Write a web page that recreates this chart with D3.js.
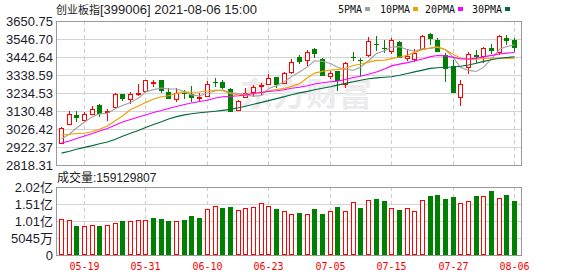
<!DOCTYPE html>
<html>
<head>
<meta charset="utf-8">
<script src="https://cdn.jsdelivr.net/npm/d3@7"></script>
<style>
  body { margin: 0; background: #fff; }
  svg text { font-family: "Liberation Sans", "Noto Sans CJK SC", sans-serif; }
</style>
</head>
<body>
<div id="chart"></div>
<script>
/* DATA */
const dates = ["05-14","05-17","05-18","05-19","05-20","05-21","05-24","05-25","05-26","05-27","05-28","05-31",
  "06-01","06-02","06-03","06-04","06-07","06-08","06-09","06-10","06-11","06-15","06-16","06-17","06-18","06-21","06-22","06-23","06-24","06-25","06-28","06-29","06-30",
  "07-01","07-02","07-05","07-06","07-07","07-08","07-09","07-12","07-13","07-14","07-15","07-16","07-19","07-20","07-21","07-22","07-23","07-26","07-27","07-28","07-29","07-30",
  "08-02","08-03","08-04","08-05","08-06"];

const openP = [2947.2,3053.6,3107.4,3080.2,3114.9,3165.2,3126.4,3155.4,3227.0,3198.1,3230.5,3247.8,
  3295.2,3309.7,3238.6,3199.9,3234.6,3227.0,3207.4,3215.5,3299.9,3296.4,3257.7,3134.5,3213.2,3238.6,3275.0,3286.6,3325.3,3290.6,3357.7,3442.6,3423.6,
  3487.2,3431.1,3334.6,3361.7,3284.8,3440.9,3427.0,3454.2,3517.8,3492.9,3479.1,3527.6,3438.6,3432.8,3487.2,3575.6,3540.9,3454.2,3392.4,3209.7,3383.1,3454.2,
  3450.2,3496.4,3473.3,3554.2,3540.9];
const highP = [3039.7,3130.5,3130.5,3126.4,3159.4,3172.7,3142.1,3232.8,3229.0,3242.1,3284.8,3309.7,
  3309.7,3310.0,3261.7,3261.7,3251.9,3275.0,3232.8,3303.9,3324.1,3309.7,3261.7,3194.1,3261.7,3280.8,3290.6,3342.6,3327.0,3357.7,3429.3,3454.2,3483.1,
  3496.4,3434.0,3361.7,3364.0,3415.5,3469.8,3435.1,3556.5,3564.0,3540.9,3550.8,3535.2,3483.1,3488.9,3569.8,3583.1,3550.8,3464.0,3425.3,3309.7,3473.3,3483.1,
  3498.7,3517.8,3569.8,3569.8,3554.2];
const lowP = [2939.7,3052.0,3068.6,3074.4,3113.0,3097.5,3074.4,3154.0,3190.0,3172.7,3218.9,3246.0,
  3267.5,3232.8,3199.0,3184.3,3199.9,3184.3,3188.3,3215.0,3270.9,3257.7,3126.0,3134.0,3203.9,3213.2,3223.0,3280.8,3261.7,3290.0,3344.4,3400.5,3392.4,
  3435.1,3333.0,3313.7,3247.8,3265.2,3419.5,3332.8,3444.4,3477.3,3464.0,3458.3,3434.0,3419.5,3415.5,3487.0,3512.0,3473.0,3296.4,3236.0,3161.1,3342.6,3406.2,
  3406.2,3458.3,3454.2,3512.0,3473.3];
const closeP = [3030.5,3113.1,3091.8,3111.4,3142.1,3111.4,3132.2,3228.8,3199.9,3227.0,3236.3,3307.9,
  3299.3,3246.1,3199.9,3236.3,3228.8,3207.4,3213.2,3284.8,3296.4,3261.7,3126.4,3188.3,3236.3,3269.2,3280.8,3323.0,3280.8,3348.4,3413.7,3412.0,3473.3,
  3458.3,3334.6,3348.4,3303.9,3406.2,3436.9,3423.6,3535.2,3512.0,3488.9,3540.9,3435.1,3448.4,3465.8,3564.0,3546.7,3473.3,3373.3,3236.3,3284.8,3458.3,3440.9,
  3492.9,3479.1,3564.0,3536.9,3496.4];

// volume in shares, and whether the bar is drawn red (1) or green (0)
const volume = [106800000,103900000,87000000,86000000,89000000,86000000,89000000,94000000,101000000,101000000,104000000,104000000,
  110700000,107000000,101000000,101000000,105000000,115700000,109000000,136500000,144500000,140000000,142500000,133600000,138600000,141500000,153400000,144500000,136500000,129600000,120700000,124700000,120700000,
  136500000,121700000,130600000,142500000,130600000,156400000,139500000,163200000,166200000,160300000,139500000,133600000,138600000,129600000,163200000,175000000,178000000,167000000,172000000,153400000,160000000,175000000,
  175000000,190000000,168000000,178000000,159129807];
const volUp = [1,1,0,1,1,0,1,1,0,1,1,1, 0,0,0,1,0,0,0,1,1,0,0,1,1,1,1,1,0,1,1,0,1, 0,0,1,0,1,1,0,1,0,0,1,0,1,1,1,0,0,0,0,1,1,0, 1,0,1,0,0];

const ma5 = [2968.6,2997.5,3032.2,3066.9,3097.8,3114.0,3117.8,3145.2,3162.9,3179.9,3204.8,3240.0,
  3254.1,3263.3,3257.9,3257.9,3242.1,3223.7,3217.1,3234.1,3246.1,3252.7,3236.5,3231.5,3221.8,3216.4,3220.2,3259.5,3278.0,3300.4,3329.3,3355.6,3385.6,
  3421.1,3418.4,3405.3,3383.7,3370.3,3366.0,3383.8,3421.2,3462.8,3479.3,3500.1,3502.4,3485.1,3475.8,3490.8,3492.0,3499.6,3484.6,3438.7,3382.9,3365.2,3358.7,
  3382.6,3431.2,3487.0,3502.8,3513.9];
const ma10 = [2991.8,2995.8,3000.4,3002.1,3012.0,3024.7,3043.8,3075.6,3101.6,3138.8,3159.4,3178.9,
  3199.6,3213.1,3218.9,3231.4,3241.0,3238.9,3240.2,3246.0,3252.0,3247.4,3230.1,3224.3,3228.0,3231.3,3236.5,3248.0,3254.8,3261.1,3272.9,3287.9,3322.6,
  3349.6,3359.4,3367.3,3369.6,3378.0,3393.6,3401.1,3413.2,3423.2,3424.8,3433.1,3443.1,3453.1,3469.3,3485.1,3496.1,3501.0,3484.8,3457.3,3436.9,3428.6,3429.2,
  3433.6,3435.0,3435.0,3434.0,3436.3];
const ma20 = [2945.5,2957.0,2971.5,2986.0,3000.4,3014.9,3029.3,3049.5,3066.9,3081.3,3095.8,3107.4,
  3121.8,3133.4,3144.9,3156.5,3168.0,3176.7,3185.4,3192.4,3205.7,3213.1,3214.9,3218.7,3223.4,3231.3,3238.7,3243.5,3247.5,3253.6,3262.4,3267.6,3276.3,
  3287.0,3293.7,3299.3,3303.0,3313.0,3324.2,3331.1,3343.1,3355.6,3373.7,3391.3,3401.3,3410.2,3419.5,3431.5,3444.8,3451.1,3449.0,3440.3,3430.8,3430.8,3436.1,
  3443.4,3452.1,3460.0,3465.0,3468.7];
const ma30 = [2887.1,2898.1,2909.7,2920.1,2930.5,2940.9,2951.3,2967.5,2984.2,3001.6,3018.3,3035.7,
  3052.4,3068.6,3084.8,3098.1,3107.9,3114.3,3120.1,3124.7,3129.3,3133.9,3139.7,3149.0,3158.2,3169.2,3180.2,3190.6,3202.1,3213.7,3224.1,3235.1,3243.8,
  3253.0,3261.7,3270.4,3280.2,3290.0,3299.3,3307.9,3317.2,3321.8,3325.3,3328.7,3337.4,3347.2,3356.5,3366.9,3376.7,3380.8,3383.1,3384.8,3389.4,3396.4,3406.8,
  3417.2,3426.4,3435.1,3439.7,3443.8];

const priceTicks = [2818.31,2922.37,3026.42,3130.48,3234.53,3338.59,3442.64,3546.70,3650.75];
const volTicks = [0,50450000,100900000,151350000,201800000];
const volTickLabels = ["0","5045万","1.01亿","1.51亿","2.02亿"];
const dateTicks = ["05-19","05-31","06-10","06-23","07-05","07-15","07-27","08-06"];

const maNames = ["5PMA","10PMA","20PMA","30PMA"];
const maColors = ["#a0a0a0","#f0a000","#ff00ff","#006a3a"];
const UP = "#ff0000", DOWN = "#008000";

/* LAYOUT */
const width = 578, height = 276;
const plot = { left: 56, right: 522 };
const mainBox = { top: 21, bottom: 165 };
const volBox = { top: 187, bottom: 255 };

const svg = d3.select("#chart").append("svg")
  .attr("width", width)
  .attr("height", height);

/* SCALES */
const xScale = d3.scaleBand().domain(dates).range([57, 518]);
const cx = d => Math.round(xScale(d) + xScale.bandwidth() / 2);

const yScale = d3.scaleLinear()
  .domain([priceTicks[0], priceTicks[priceTicks.length - 1]])
  .range([mainBox.bottom, mainBox.top]);
const vScale = d3.scaleLinear()
  .domain([0, volTicks[volTicks.length - 1]])
  .range([volBox.bottom, volBox.top]);

/* GRID + AXES */
function drawPanel(box, scale, ticks, fmt) {
  const g = svg.append("g");
  // horizontal grid
  g.selectAll(".hgrid")
    .data(ticks.slice(1, -1))
    .join("line")
    .attr("x1", plot.left).attr("x2", plot.right)
    .attr("y1", d => Math.round(scale(d)) + 0.5)
    .attr("y2", d => Math.round(scale(d)) + 0.5)
    .attr("stroke", "#d3d3d3");
  // vertical dashed grid
  g.selectAll(".vgrid")
    .data(dateTicks)
    .join("line")
    .attr("x1", d => cx(d) + 0.5).attr("x2", d => cx(d) + 0.5)
    .attr("y1", box.top).attr("y2", box.bottom)
    .attr("stroke", "#cfcfcf")
    .attr("stroke-dasharray", "4,3");
  // left axis labels
  const axis = d3.axisLeft(scale).tickValues(ticks).tickSize(0).tickPadding(3).tickFormat(fmt);
  g.append("g")
    .attr("transform", `translate(${plot.left - 0},0)`)
    .call(axis)
    .call(a => a.select(".domain").remove())
    .selectAll("text")
    .attr("fill", "#1c1c2c")
    .style("font-size", "13px")
    .style("font-family", "\"Liberation Sans\", \"Noto Sans CJK SC\", sans-serif");
  // frame
  g.append("rect")
    .attr("x", plot.left + 0.5).attr("y", box.top + 0.5)
    .attr("width", plot.right - plot.left - 1).attr("height", box.bottom - box.top)
    .attr("fill", "none")
    .attr("stroke", "#999");
}

drawPanel(mainBox, yScale, priceTicks, d3.format(".2f"));
drawPanel(volBox, vScale, volTicks, (d, i) => volTickLabels[i]);

// watermark
svg.append("text")
  .attr("x", 240).attr("y", 106)
  .attr("fill", "#ececee")
  .style("font-family", "\"Noto Sans CJK SC\", sans-serif")
  .style("font-size", "33px")
  .style("font-weight", "bold")
  .text("东方财富");

/* CANDLES */
const idx = d3.range(dates.length);
const candles = svg.append("g");
idx.forEach(i => {
  const x = cx(dates[i]);
  const o = yScale(openP[i]), c = yScale(closeP[i]);
  const h = Math.round(yScale(highP[i])), l = Math.round(yScale(lowP[i]));
  const top = Math.round(Math.min(o, c)), bot = Math.round(Math.max(o, c));
  if (closeP[i] >= openP[i]) {
    if (h < top) candles.append("line").attr("x1", x + 0.5).attr("x2", x + 0.5).attr("y1", h).attr("y2", top).attr("stroke", UP);
    if (l > bot) candles.append("line").attr("x1", x + 0.5).attr("x2", x + 0.5).attr("y1", bot + 1).attr("y2", l).attr("stroke", UP);
    candles.append("rect")
      .attr("x", x - 1.5).attr("y", top + 0.5)
      .attr("width", 4).attr("height", Math.max(bot - top, 0.01))
      .attr("fill", "#fff").attr("stroke", UP);
  } else {
    candles.append("line").attr("x1", x + 0.5).attr("x2", x + 0.5).attr("y1", h).attr("y2", l).attr("stroke", DOWN);
    candles.append("rect")
      .attr("x", x - 2).attr("y", top)
      .attr("width", 5).attr("height", Math.max(bot - top, 1))
      .attr("fill", DOWN);
  }
});

/* MOVING AVERAGES */
const line = d3.line()
  .x((d, i) => cx(dates[i]) + 0.5)
  .y(d => yScale(d));
[ma5, ma10, ma20, ma30].forEach((s, k) => {
  svg.append("path")
    .datum(s)
    .attr("d", line)
    .attr("fill", "none")
    .attr("stroke", maColors[k])
    .attr("stroke-width", 1.1);
});

/* VOLUME */
svg.append("g")
  .selectAll("rect")
  .data(idx)
  .join("rect")
  .each(function (i) {
    const x = cx(dates[i]);
    const t = Math.round(vScale(volume[i]));
    const el = d3.select(this);
    if (volUp[i]) {
      el.attr("x", x - 1.5).attr("y", t + 0.5).attr("width", 4).attr("height", volBox.bottom - t - 1)
        .attr("fill", "#fff").attr("stroke", UP);
    } else {
      el.attr("x", x - 2).attr("y", t).attr("width", 5).attr("height", volBox.bottom - t)
        .attr("fill", DOWN);
    }
  });

/* X LABELS */
svg.append("g")
  .selectAll("text")
  .data(dateTicks)
  .join("text")
  .attr("x", d => cx(d) + 0.5)
  .attr("y", 270)
  .attr("text-anchor", "middle")
  .attr("fill", "#ff0000")
  .style("font-family", "\"DejaVu Sans Mono\", monospace")
  .style("font-size", "10px")
  .text(d => d);

/* TITLES + LEGEND */
const title = svg.append("text").attr("x", 56).attr("y", 14).attr("fill", "#222");
title.append("tspan").style("font-size", "11px").text("创业板指");
title.append("tspan").style("font-size", "13px").text("[399006] 2021-08-06 15:00");

const vt = svg.append("text").attr("x", 57).attr("y", 182).attr("fill", "#222");
vt.append("tspan").style("font-size", "12px").text("成交量");
vt.append("tspan").style("font-size", "12px").text(":159129807");

const legendX = [338, 380, 425, 472];
const lg = svg.append("g").selectAll("g").data(maNames).join("g");
lg.append("text")
  .attr("x", (d, i) => legendX[i])
  .attr("y", 12.5)
  .attr("fill", "#111")
  .style("font-family", "\"DejaVu Sans Mono\", monospace")
  .style("font-size", "10px")
  .text(d => d);
lg.append("rect")
  .attr("x", (d, i) => legendX[i] + d.length * 6 + 3)
  .attr("y", 7)
  .attr("width", 5).attr("height", 4)
  .attr("fill", (d, i) => maColors[i]);
</script>
</body>
</html>
